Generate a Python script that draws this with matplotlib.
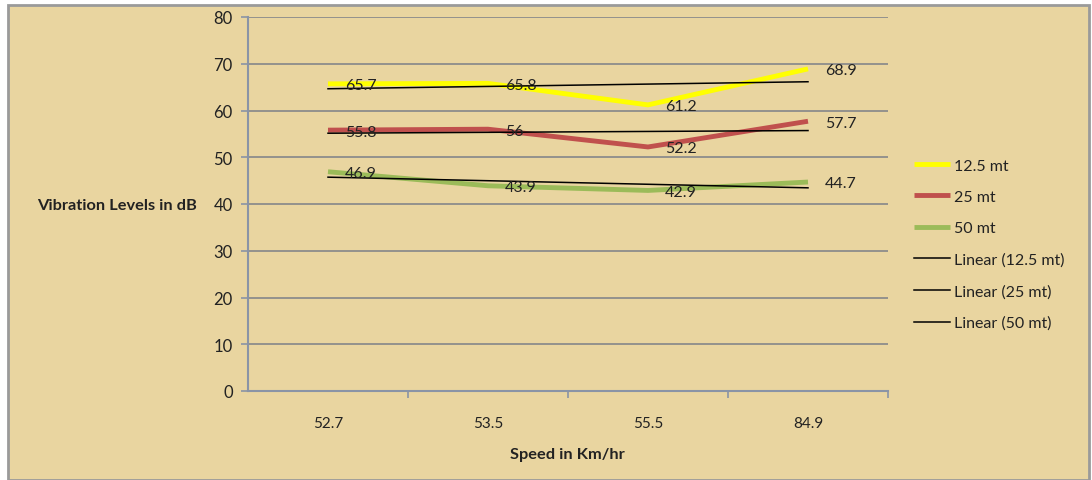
import numpy as np
import matplotlib
matplotlib.use("Agg")
import matplotlib.pyplot as plt
from matplotlib.patches import Rectangle

# vibration levels (dB) at four test speeds for three distances
speeds = ["52.7", "53.5", "55.5", "84.9"]
series_names = ["12.5 mt", "25 mt", "50 mt"]
vib_125 = [65.7, 65.8, 61.2, 68.9]
vib_25 = [55.8, 56, 52.2, 57.7]
vib_50 = [46.9, 43.9, 42.9, 44.7]
colors = ["#FFFF00", "#C0504D", "#9BBB59"]

plt.rcParams['font.family'] = ['Lato', 'DejaVu Sans']

W, H = 1092, 481
fig = plt.figure(figsize=(W / 100, H / 100), dpi=100)
bg = "#E9D5A0"
fig.patch.set_facecolor("white")
fig.patches.append(Rectangle((8 / W, 0), (1089 - 8) / W, (H - 6) / H,
                             transform=fig.transFigure, facecolor=bg,
                             edgecolor="#9A9A9A", linewidth=2, zorder=-1))

ax = fig.add_axes([248 / W, 1 - 392 / H, (888 - 248) / W, (392 - 18) / H])
ax.set_facecolor("none")
ax.set_zorder(1)

x = np.arange(1, len(speeds) + 1)
handles = []
for name, vals, c in zip(series_names, [vib_125, vib_25, vib_50], colors):
    h, = ax.plot(x, vals, color=c, lw=3.5, solid_joinstyle="round",
                 solid_capstyle="butt", label=name, zorder=3)
    handles.append(h)
    for xi, v in zip(x, vals):
        ax.annotate(f"{v:g}", (xi, v), xytext=(12, -1), textcoords="offset points",
                    va="center", ha="left", fontsize=11.5, color="#222222", zorder=5)

# linear trendlines
for name, vals in zip(series_names, [vib_125, vib_25, vib_50]):
    k, b = np.polyfit(x, vals, 1)
    h, = ax.plot(x, k * x + b, color="black", lw=1.1, zorder=4,
                 label=f"Linear ({name})")
    handles.append(h)

ax.set_xlim(0.5, 4.5)
ax.set_ylim(0, 80)
ax.set_yticks(range(0, 81, 10))
ax.set_xticks(x)
ax.set_xticklabels(speeds)
ax.set_xticks([1.5, 2.5, 3.5, 4.5], minor=True)
ax.tick_params(axis="x", which="major", length=0, pad=18, labelsize=11, colors="#222222")
ax.tick_params(axis="x", which="minor", length=5, color="#8A94A6", width=1.2)
ax.tick_params(axis="y", length=5, color="#8A94A6", width=1.2, labelsize=12,
               pad=6, labelcolor="#222222")
ax.grid(axis="y", color="#8C8C8C", lw=1.3)
ax.set_axisbelow(True)
for s in ["top", "right"]:
    ax.spines[s].set_visible(False)
for s in ["left", "bottom"]:
    ax.spines[s].set_color("#8A94A6")
    ax.spines[s].set_linewidth(1.5)

fig.text(37 / W, 1 - 206 / H, "Vibration Levels in dB", fontsize=11.8,
         fontweight="bold", va="center", ha="left", color="#222222")
fig.text(567 / W, 1 - 455 / H, "Speed in Km/hr", fontsize=11.8,
         fontweight="bold", va="center", ha="center", color="#222222")

fig.legend(handles=handles, loc="upper left", bbox_to_anchor=(900 / W, 1 - 145 / H),
           frameon=False, fontsize=11.5, handlelength=2.2, handletextpad=0.3,
           labelspacing=1.08, labelcolor="#222222")

fig.savefig("out.png", dpi=100, facecolor=fig.get_facecolor())
